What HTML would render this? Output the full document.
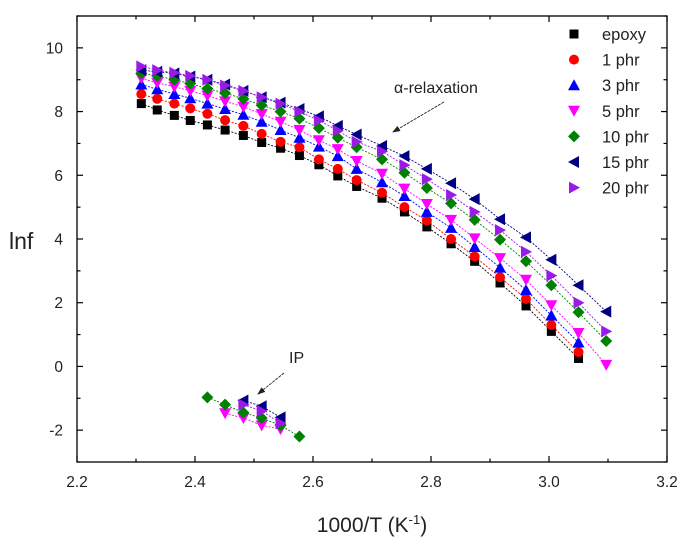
<!DOCTYPE html>
<html><head><meta charset="utf-8"><style>
html,body{margin:0;padding:0;background:#fff;}
svg{display:block;font-family:"Liberation Sans",sans-serif;}
</style></head><body>
<svg id="chart" width="699" height="545" viewBox="0 0 699 545"></svg>
<script>
const xVals=[2.309,2.336,2.365,2.392,2.421,2.451,2.482,2.513,2.545,2.577,2.610,2.642,2.674,2.717,2.755,2.793,2.834,2.874,2.917,2.961,3.004,3.050,3.097];
const seriesNames=["epoxy","1 phr","3 phr","5 phr","10 phr","15 phr","20 phr"];
const epoxy=[8.25,8.05,7.88,7.72,7.58,7.42,7.25,7.03,6.85,6.62,6.33,5.98,5.65,5.28,4.85,4.38,3.85,3.3,2.62,1.9,1.1,0.25];
const phr1=[8.55,8.4,8.25,8.1,7.93,7.73,7.55,7.3,7.05,6.88,6.5,6.2,5.85,5.45,5.0,4.58,4.0,3.45,2.8,2.12,1.3,0.45];
const phr3=[8.85,8.7,8.55,8.42,8.25,8.08,7.9,7.68,7.42,7.18,6.9,6.6,6.2,5.78,5.35,4.85,4.35,3.75,3.1,2.4,1.6,0.75];
const phr5=[9.05,8.9,8.78,8.65,8.5,8.32,8.15,7.92,7.68,7.42,7.1,6.82,6.45,6.05,5.58,5.1,4.6,4.02,3.4,2.72,1.92,1.05,0.05];
const phr10=[9.2,9.12,9.0,8.88,8.72,8.58,8.4,8.2,8.0,7.78,7.48,7.18,6.88,6.5,6.08,5.6,5.12,4.6,3.98,3.3,2.55,1.7,0.8];
const phr15=[9.3,9.25,9.2,9.1,9.0,8.85,8.65,8.45,8.28,8.08,7.85,7.55,7.28,6.92,6.6,6.2,5.75,5.25,4.62,4.05,3.35,2.55,1.72];
const phr20=[9.42,9.3,9.22,9.12,9.0,8.82,8.65,8.45,8.25,8.0,7.72,7.4,7.05,6.75,6.32,5.88,5.38,4.85,4.28,3.6,2.85,2.0,1.1];
const ipX5=[2.451,2.482,2.513,2.545];
const ip5=[-1.47,-1.62,-1.85,-1.97];
const ipX10=[2.421,2.451,2.482,2.513,2.545,2.577];
const ip10=[-0.97,-1.2,-1.45,-1.62,-1.85,-2.2];
const ipX15=[2.482,2.513,2.545];
const ip15=[-1.07,-1.25,-1.6];
const ipX20=[2.482,2.513,2.545];
const ip20=[-1.2,-1.4,-1.78];
const xTicks=[2.2,2.4,2.6,2.8,3.0,3.2];
const xTickLabels=["2.2","2.4","2.6","2.8","3.0","3.2"];
const yTicks=[-2,0,2,4,6,8,10];
const yTickLabels=["-2","0","2","4","6","8","10"];

const NS="http://www.w3.org/2000/svg";
const svg=document.getElementById("chart");
const L=77,R=667,T=16,B=462,xmin=2.2,xmax=3.2,ymin=-3,ymax=11;
const sx=v=>L+(v-xmin)/(xmax-xmin)*(R-L);
const sy=v=>B-(v-ymin)/(ymax-ymin)*(B-T);
function el(tag,attrs,parent){const e=document.createElementNS(NS,tag);for(const k in attrs)e.setAttribute(k,attrs[k]);(parent||svg).appendChild(e);return e;}

const colors=["#000000","#ff0000","#0000ff","#ff00ff","#008000","#000080","#9a1ae6"];
const shapes=["square","circle","up","down","diamond","left","right"];
function marker(shape,cx,cy,c,g){
  const s=5;let e;
  if(shape==="square")e=el("rect",{x:cx-s+0.5,y:cy-s+0.5,width:2*s-1,height:2*s-1,fill:c},g);
  else if(shape==="circle")e=el("circle",{cx:cx,cy:cy,r:s,fill:c},g);
  else{let p;
    if(shape==="up")p=[[cx,cy-s-1],[cx+s+1,cy+s],[cx-s-1,cy+s]];
    else if(shape==="down")p=[[cx,cy+s+1],[cx+s+1,cy-s],[cx-s-1,cy-s]];
    else if(shape==="diamond")p=[[cx,cy-s-1],[cx+s+1,cy],[cx,cy+s+1],[cx-s-1,cy]];
    else if(shape==="left")p=[[cx-s-1,cy],[cx+s,cy-s-1],[cx+s,cy+s+1]];
    else p=[[cx+s+1,cy],[cx-s,cy-s-1],[cx-s,cy+s+1]];
    e=el("polygon",{points:p.map(q=>q.join(",")).join(" "),fill:c},g);}
  return e;
}

// frame
const frame=el("rect",{x:L,y:T,width:R-L,height:B-T,fill:"none",stroke:"#000","stroke-width":1.3});



// ticks
for(let v=2.2;v<=3.2001;v+=0.1){const x=sx(v);const major=Math.abs(Math.round(v*5)-v*5)<1e-6;const len=major?6:3.5;
  el("line",{x1:x,x2:x,y1:B,y2:B-len,stroke:"#000","stroke-width":1.2});
  el("line",{x1:x,x2:x,y1:T,y2:T+len,stroke:"#000","stroke-width":1.2});}
for(let v=-3;v<=11;v+=1){const y=sy(v);const major=v%2===0;const len=major?6:3.5;
  el("line",{x1:L,x2:L+len,y1:y,y2:y,stroke:"#000","stroke-width":1.2});
  el("line",{x1:R,x2:R-len,y1:y,y2:y,stroke:"#000","stroke-width":1.2});}
xTicks.forEach((v,i)=>{const t=el("text",{x:sx(v),y:B+25,"text-anchor":"middle","font-size":15.5,fill:"#222"});t.textContent=xTickLabels[i];
  
  });
yTicks.forEach((v,i)=>{const t=el("text",{x:L-14,y:sy(v)+5.5,"text-anchor":"end","font-size":15.5,fill:"#222"});t.textContent=yTickLabels[i];
  
  });

const xt=el("text",{x:372,y:532,"text-anchor":"middle","font-size":21,fill:"#222"});
xt.innerHTML='1000/T (K<tspan dy="-8" font-size="13">-1</tspan><tspan dy="8">)</tspan>';


const yt=el("text",{x:9,y:249,"font-size":23,fill:"#222"});yt.textContent="lnf";



// series
const allY=[epoxy,phr1,phr3,phr5,phr10,phr15,phr20];
const ipSets=[null,null,null,[ipX5,ip5],[ipX10,ip10],[ipX15,ip15],[ipX20,ip20]];
allY.forEach((ys,si)=>{
  const g=el("g",{});
  
  
  const pts=ys.map((y,i)=>sx(xVals[i])+","+sy(y)).join(" ");
  el("polyline",{points:pts,fill:"none",stroke:colors[si],"stroke-width":0.9,"stroke-dasharray":"2,1.5"},g);
  ys.forEach((y,i)=>{const m=marker(shapes[si],sx(xVals[i]),sy(y),colors[si],g);
    
    });
  const ip=ipSets[si];
  if(ip){const ig=el("g",{},g);
    
    
    el("polyline",{points:ip[1].map((y,i)=>sx(ip[0][i])+","+sy(y)).join(" "),fill:"none",stroke:colors[si],"stroke-width":0.9,"stroke-dasharray":"2,1.5"},ig);
    ip[1].forEach((y,i)=>{const m=marker(shapes[si],sx(ip[0][i]),sy(y),colors[si],ig);
      
      });}
});

// legend
const lg=el("g",{});


seriesNames.forEach((n,i)=>{const y=34+i*25.6;
  const e=el("g",{},lg);
  
  
  marker(shapes[i],574,y,colors[i],e);
  const t=el("text",{x:602,y:y+6,"font-size":16.5,fill:"#222"},e);t.textContent=n;});

// annotations
const defs=el("defs",{});
const mk=el("marker",{id:"ah",markerWidth:8,markerHeight:8,refX:7,refY:4,orient:"auto",markerUnits:"userSpaceOnUse"},defs);
el("path",{d:"M0,1 L8,4 L0,7 Z",fill:"#222"},mk);
const a1=el("text",{x:394,y:93,"font-size":16,fill:"#222"});a1.textContent="α-relaxation";


const ar1=el("line",{x1:444,y1:102,x2:393,y2:132,stroke:"#222","stroke-width":0.9,"stroke-dasharray":"3,1","marker-end":"url(#ah)"});


const a2=el("text",{x:289,y:363,"font-size":16,fill:"#222"});a2.textContent="IP";


const ar2=el("line",{x1:284,y1:373,x2:258,y2:394,stroke:"#222","stroke-width":0.9,"stroke-dasharray":"3,1","marker-end":"url(#ah)"});


</script>
</body></html>
